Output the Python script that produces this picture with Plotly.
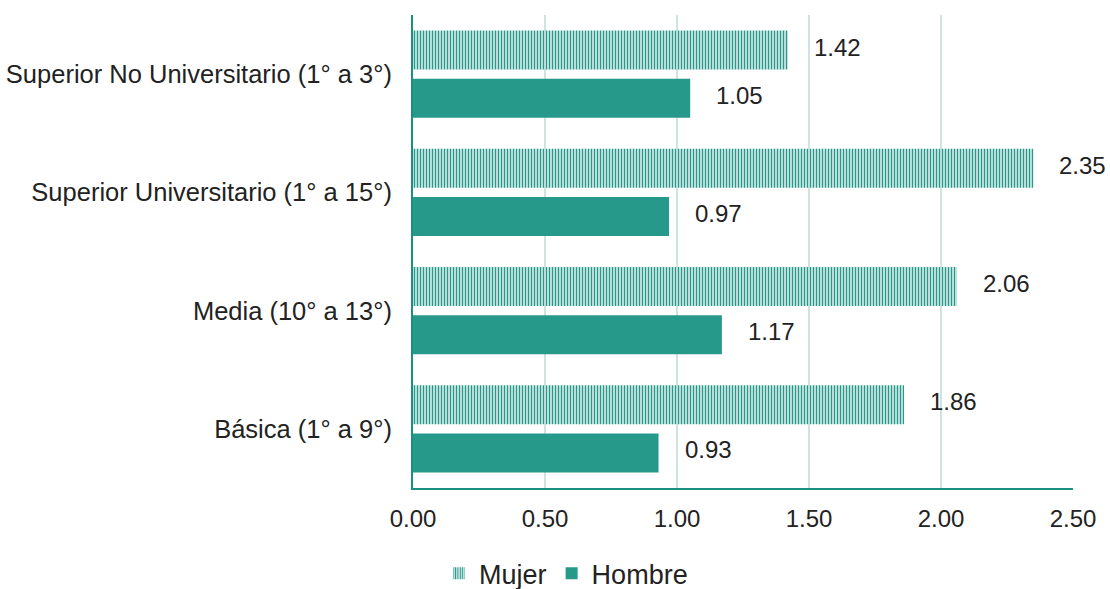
import plotly.graph_objects as go

# Education levels, listed bottom to top
niveles = [
    "Básica (1° a 9°)",
    "Media (10° a 13°)",
    "Superior Universitario (1° a 15°)",
    "Superior No Universitario (1° a 3°)",
]
mujer = [1.86, 2.06, 2.35, 1.42]
hombre = [0.93, 1.17, 0.97, 1.05]

x_ticks = [0, 0.5, 1.0, 1.5, 2.0, 2.5]
x_tick_text = ["0.00", "0.50", "1.00", "1.50", "2.00", "2.50"]

TEAL = "#26998b"
AXIS = "#1b8f80"
GRID = "#cfe4e0"
TEXT = "#222222"
FONT = "Liberation Sans, Arial, sans-serif"

fig = go.Figure()

# Hombre is added first so that in grouped horizontal mode it sits below Mujer
fig.add_trace(go.Bar(
    y=niveles, x=hombre, name="Hombre", orientation="h",
    marker=dict(color=TEAL, line=dict(width=0)),
    legendrank=2,
))
fig.add_trace(go.Bar(
    y=niveles, x=mujer, name="Mujer", orientation="h",
    marker=dict(
        color="white",
        line=dict(width=0),
        pattern=dict(shape="|", fgcolor=TEAL, bgcolor="white",
                     size=3, solidity=0.55, fgopacity=1),
    ),
    legendrank=1,
))

# Value labels placed just right of each bar end
for nivel, v in zip(niveles, mujer):
    fig.add_annotation(x=v, y=nivel, text=f"{v:.2f}", showarrow=False,
                       xanchor="left", yanchor="middle", xshift=24, yshift=27,
                       font=dict(size=24, color=TEXT, family=FONT))
for nivel, v in zip(niveles, hombre):
    fig.add_annotation(x=v, y=nivel, text=f"{v:.2f}", showarrow=False,
                       xanchor="left", yanchor="middle", xshift=24, yshift=-21,
                       font=dict(size=24, color=TEXT, family=FONT))

fig.update_layout(
    width=1110, height=589,
    margin=dict(l=413, r=37, t=15, b=101),
    paper_bgcolor="white", plot_bgcolor="white",
    barmode="group", bargap=0.184, bargroupgap=0.19,
    font=dict(family=FONT, color=TEXT, size=24),
    showlegend=True,
    legend=dict(
        orientation="h", xref="container", yref="container",
        x=0.51, y=0.026, xanchor="center", yanchor="middle",
        font=dict(size=27, color=TEXT, family=FONT),
        itemwidth=30, traceorder="normal",
    ),
)

fig.update_xaxes(
    range=[0, 2.5], tickvals=x_ticks, ticktext=x_tick_text,
    showgrid=True, gridcolor=GRID, gridwidth=2,
    showline=True, linecolor=AXIS, linewidth=2,
    zeroline=False, ticks="", ticklabelstandoff=8,
    tickfont=dict(size=24, color=TEXT, family=FONT),
    fixedrange=True, automargin=False,
)
fig.update_yaxes(
    categoryorder="array", categoryarray=niveles,
    showgrid=False, showline=True, linecolor=AXIS, linewidth=2,
    ticks="", ticklabelstandoff=14,
    tickfont=dict(size=25.5, color=TEXT, family=FONT),
    fixedrange=True, automargin=False,
)

fig.write_html("out.html")
